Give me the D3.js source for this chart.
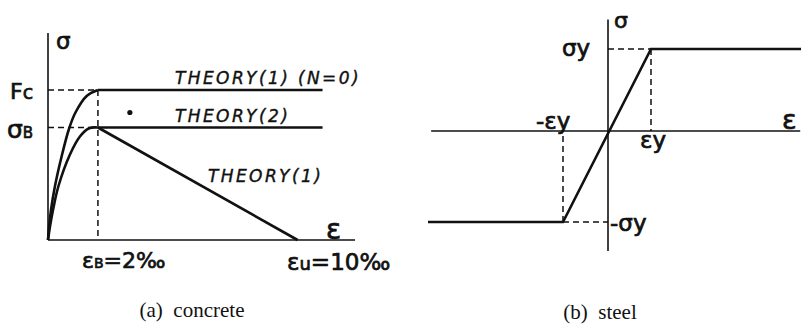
<!DOCTYPE html>
<html>
<head>
<meta charset="utf-8">
<script src="https://cdn.jsdelivr.net/npm/d3@7"></script>
<style>
  html, body { margin: 0; padding: 0; background: #fff; }
  svg { display: block; }
  text { white-space: pre; }
</style>
</head>
<body>
<svg id="chart" width="801" height="326"></svg>
<script>
// (a) concrete: strain in per-mille, stress relative to Fc
const epsB = 2, epsU = 10;
const fc = 1, sigB = 0.75;
const fcCurve = [[0, 0], [0.04, 0.08], [0.12, 0.2], [0.28, 0.36], [0.55, 0.56], [0.84, 0.74], [1.1, 0.85], [1.55, 0.96], [2, 1]];
const sbCurve = [[0, 0], [0.07, 0.08], [0.2, 0.2], [0.42, 0.36], [0.88, 0.57], [1.28, 0.69], [1.65, 0.745], [2, 0.75]];
const fcPlateau = [[2, 1], [11, 1]];
const sbPlateau = [[2, 0.75], [11, 0.75]];
const softening = [[2, 0.75], [10, 0]];
const testPoint = [[3.28, 0.85]];
const concreteLabels = ['THEORY(1) (N=0)', 'THEORY(2)', 'THEORY(1)'];

// (b) steel: strain / stress relative to yield
const epsY = 1, sigY = 1;
const steelCurve = [[-4, -1], [-1, -1], [1, 1], [4.5, 1]];

const svg = d3.select('#chart');
const ink = '#111';
const sans = "'DejaVu Sans', sans-serif";
const line = (x, y) => d3.line().x(d => x(d[0])).y(d => y(d[1]));

function seg(g, x1, y1, x2, y2, w, dash) {
  g.append('line').attr('x1', x1).attr('y1', y1).attr('x2', x2).attr('y2', y2)
    .attr('stroke', ink).attr('stroke-width', w).attr('stroke-dasharray', dash || null);
}

function label(g, x, y, parts, size, anchor) {
  const t = g.append('text').attr('x', x).attr('y', y).attr('font-family', sans)
    .attr('font-size', size).attr('fill', ink).attr('stroke', ink).attr('stroke-width', 0.7)
    .attr('text-anchor', anchor || 'start');
  parts.forEach(p => {
    const s = t.append('tspan').text(typeof p === 'string' ? p : p.t);
    if (p.size) s.attr('font-size', p.size);
  });
  return t;
}

// ---- (a) concrete ----
const xa = d3.scaleLinear().domain([0, 12.3]).range([48, 355]);
const ya = d3.scaleLinear().domain([0, 1]).range([240, 90]);
const ga = svg.append('g');

seg(ga, xa(0), ya(0), xa(12.3), ya(0), 1.6);
seg(ga, xa(0), ya(0), xa(0), ya(1.38), 1.6);
seg(ga, xa(0), ya(fc), xa(epsB), ya(fc), 1.5, '6,4');
seg(ga, xa(0), ya(sigB), xa(epsB), ya(sigB), 1.5, '6,4');
seg(ga, xa(epsB), ya(fc), xa(epsB), ya(0), 1.5, '6,4');

[fcCurve, sbCurve].forEach(c => ga.append('path').datum(c)
  .attr('d', line(xa, ya).curve(d3.curveCatmullRom.alpha(0.5)))
  .attr('fill', 'none').attr('stroke', ink).attr('stroke-width', 2.6));
[fcPlateau, sbPlateau, softening].forEach(c => ga.append('path').datum(c)
  .attr('d', line(xa, ya)).attr('fill', 'none').attr('stroke', ink).attr('stroke-width', 2.6));

ga.selectAll('.pt').data(testPoint).join('circle').attr('class', 'pt')
  .attr('cx', d => xa(d[0])).attr('cy', d => ya(d[1])).attr('r', 2.6).attr('fill', ink);

const th = ga.append('g').attr('font-family', sans).attr('font-style', 'italic')
  .attr('font-size', 17).attr('letter-spacing', 2.4).attr('fill', ink)
  .attr('stroke', ink).attr('stroke-width', 0.4);
th.append('text').attr('x', 175).attr('y', 84).text(concreteLabels[0]);
th.append('text').attr('x', 175).attr('y', 122).text(concreteLabels[1]);
th.append('text').attr('x', 208).attr('y', 182).text(concreteLabels[2]);

label(ga, 56, 49, ['σ'], 23);
label(ga, 10, 99, ['F', { t: 'c', size: 19 }], 22);
label(ga, 7, 138, ['σ', { t: 'B', size: 15 }], 25);
label(ga, 326, 239, ['ε'], 28);
label(ga, 82, 268, ['ε', { t: 'B', size: 14 }, '=2‰'], 22);
label(ga, 287, 270, ['ε', { t: 'u', size: 18 }, '=10‰'], 23);

ga.append('text').attr('x', 192).attr('y', 317).attr('text-anchor', 'middle')
  .attr('font-family', "'Liberation Serif', serif").attr('font-size', 21).attr('fill', ink)
  .text('(a)  concrete');

// ---- (b) steel ----
const xb = d3.scaleLinear().domain([-epsY, 0, epsY]).range([563, 608, 651]);
const yb = d3.scaleLinear().domain([-sigY, 0, sigY]).range([222, 131, 49]);
const gb = svg.append('g');

seg(gb, xb(-3.93), yb(0), xb(4.47), yb(0), 1.6);
seg(gb, xb(0), yb(-1.32), xb(0), yb(1.36), 1.6);
seg(gb, xb(0), yb(sigY), xb(epsY), yb(sigY), 1.5, '6,4');
seg(gb, xb(epsY), yb(sigY), xb(epsY), yb(0), 1.5, '6,4');
seg(gb, xb(-epsY), yb(-sigY), xb(0), yb(-sigY), 1.5, '6,4');
seg(gb, xb(-epsY), yb(-sigY), xb(-epsY), yb(0), 1.5, '6,4');

gb.append('path').datum(steelCurve).attr('d', line(xb, yb))
  .attr('fill', 'none').attr('stroke', ink).attr('stroke-width', 2.6);

label(gb, 614, 28, ['σ'], 22);
label(gb, 562, 56, ['σy'], 23);
label(gb, 536, 129, ['-εy'], 23);
label(gb, 640, 148, ['εy'], 23);
label(gb, 782, 129, ['ε'], 27);
label(gb, 610, 231, ['-σy'], 23);

gb.append('text').attr('x', 600).attr('y', 319).attr('text-anchor', 'middle')
  .attr('font-family', "'Liberation Serif', serif").attr('font-size', 21).attr('fill', ink)
  .text('(b)  steel');
</script>
</body>
</html>
